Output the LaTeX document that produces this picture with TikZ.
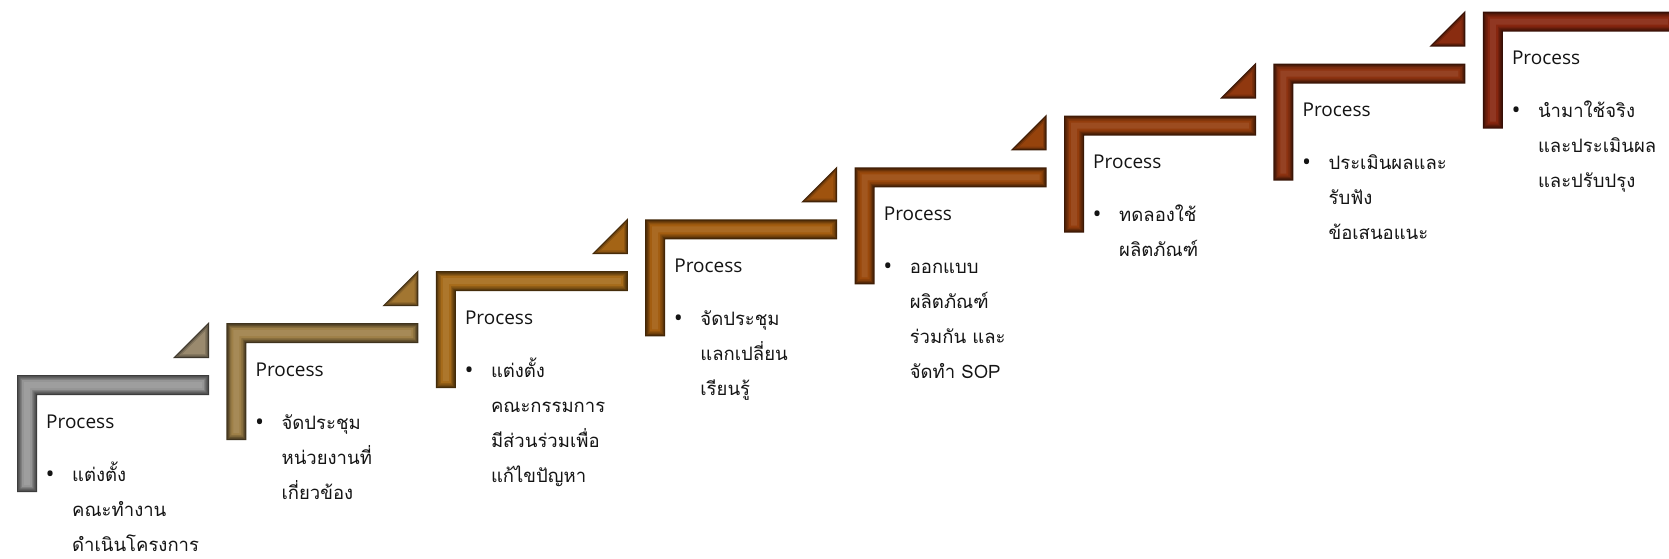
\documentclass[tikz,border=0pt]{standalone}
\usepackage{fontspec}
\setmainfont{Open Sans}
\newfontfamily\thaifont[Script=Thai]{Loma}
\definecolor{stepGrey}{HTML}{959595}
\definecolor{stepTan}{HTML}{9E8048}
\definecolor{stepBronze}{HTML}{A66B1A}
\definecolor{stepAmber}{HTML}{A35D10}
\definecolor{stepRust}{HTML}{9A490C}
\definecolor{stepBrick}{HTML}{933D0D}
\definecolor{stepMaroon}{HTML}{8C3210}
\definecolor{stepWine}{HTML}{86260F}
% corner bar and small triangle, shrunk inwards by #1
\newcommand{\stepcorner}[1]{(#1,#1) -- (192-#1,#1) -- (192-#1,20-#1) -- (20-#1,20-#1) -- (20-#1,117-#1) -- (#1,117-#1) -- cycle}
\newcommand{\steptri}[1]{(156+2.414*#1,-17-#1) -- (192-#1,-17-#1) -- (192-#1,-53+2.414*#1) -- cycle}

\begin{document}
\begin{tikzpicture}[x=1pt, y=-1pt, every node/.style={inner sep=0pt, text=black!92}]
            \clip (0,0) rectangle (1669,558);
            \fill[white] (0,0) rectangle (1669,558);
            \foreach \i/\col/\nxt/\txt in {
                0/stepGrey/stepTan/{แต่งตั้ง\\คณะทำงาน\\ดำเนินโครงการ},
                1/stepTan/stepBronze/{จัดประชุม\\หน่วยงานที่\\เกี่ยวข้อง},
                2/stepBronze/stepAmber/{แต่งตั้ง\\คณะกรรมการ\\มีส่วนร่วมเพื่อ\\แก้ไขปัญหา},
                3/stepAmber/stepRust/{จัดประชุม\\แลกเปลี่ยน\\เรียนรู้},
                4/stepRust/stepBrick/{ออกแบบ\\ผลิตภัณฑ์\\ร่วมกัน และ\\จัดทำ SOP},
                5/stepBrick/stepMaroon/{ทดลองใช้\\ผลิตภัณฑ์},
                6/stepMaroon/stepWine/{ประเมินผลและ\\รับฟัง\\ข้อเสนอแนะ},
                7/stepWine/stepWine/{นำมาใช้จริง\\และประเมินผล\\และปรับปรุง}}{
                \begin{scope}[shift={(17+209.4*\i,375-51.9*\i)}]
                    \fill[\col!40!black] \stepcorner{0};
                    \fill[\col!55!black] \stepcorner{1.2};
                    \fill[\col!70!black] \stepcorner{2.4};
                    \fill[\col!85!black] \stepcorner{3.6};
                    \fill[\col] \stepcorner{5};
                    \fill[\col!92!white] \stepcorner{7};
                    \fill[\col!50!\nxt!40!black] \steptri{0};
                    \fill[\col!50!\nxt!65!black] \steptri{1.2};
                    \fill[\col!50!\nxt!85!black] \steptri{2.4};
                    \fill[\col!50!\nxt] \steptri{3.8};
                    \node[anchor=base west, font=\fontsize{19}{23}\selectfont] (title\i) at (29,53) {Process};
                    \node[anchor=base west, font=\fontsize{24}{23}\selectfont] (dot\i) at (28.5,107) {\textbullet};
                    \node[anchor=base west, font=\thaifont\fontsize{18.5}{35}\selectfont] (body\i) at (55,106)
                        {\begin{tabular}[t]{@{}l@{}}\txt\end{tabular}};
                \end{scope}
            }
        \end{tikzpicture}
\end{document}
